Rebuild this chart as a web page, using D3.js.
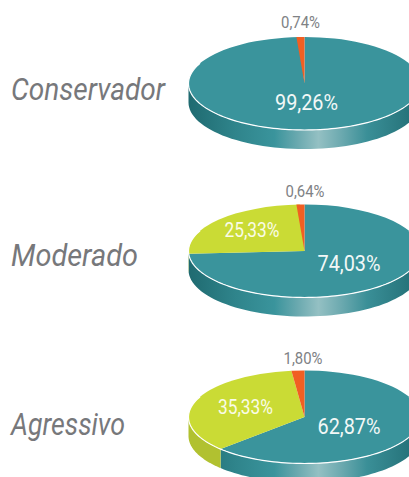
<!DOCTYPE html>
<html lang="en">
<head>
<meta charset="UTF-8">
<script src="https://d3js.org/d3.v7.min.js"></script>
<title>Perfis de investimento</title>
<style>
    html, body { margin: 0; padding: 0; background: #fff; overflow: hidden; }
    text { font-family: Roboto, "Liberation Sans", sans-serif; }
</style>
</head>
<body>
<div id="chart"></div>
<script>
    const profiles = ['Conservador', 'Moderado', 'Agressivo'];
    const sliceKeys = ['teal', 'yellow', 'orange'];
    const conservador = [99.26, 0, 0.74];
    const moderado = [74.03, 25.33, 0.64];
    const agressivo = [62.87, 35.33, 1.80];
    const allValues = [conservador, moderado, agressivo];

    const width = 409, height = 477;
    const rx = 116, ry = 46.5, depth = 19;
    const cx = 304.5;
    const centerY = [83.5, 251, 417];
    const nameY = [99.5, 266, 434.5];
    const nameWidth = [154, 127, 114];
    const colors = {teal: '#3a949c', yellow: '#cadb35', orange: '#f15f22'};
    const sideYellow = '#b1c130';
    // thin slices are drawn a little wider than their share so they stay visible
    const minAngle = 0.07;

    // label position, relative to the pie centre
    const big = {size: 22, len: 63, fill: '#f2f8f7', weight: 400};
    const mid = {size: 19.5, len: 55, fill: '#fafce8', weight: 400};
    const small = {size: 16.5, len: 39, fill: '#808285', weight: 400};
    const labelPos = [
        [{dx: 2, dy: 26.5, ...big}, null, {dx: -4, dy: -56, ...small}],
        [{dx: 44.5, dy: 20, ...big}, {dx: -52.5, dy: -13.7, ...mid}, {dx: 0.5, dy: -53.7, ...small}],
        [{dx: 44.5, dy: 17.3, ...big}, {dx: -59, dy: -3, ...mid}, {dx: -1.5, dy: -52.7, ...small}]
    ];

    const fmt = v => v.toFixed(2).replace('.', ',') + '%';

    const svg = d3.select('#chart').append('svg')
        .attr('width', width).attr('height', height);

    const grad = svg.append('defs').append('linearGradient')
        .attr('id', 'side').attr('gradientUnits', 'userSpaceOnUse')
        .attr('x1', -rx).attr('x2', rx).attr('y1', 0).attr('y2', 0);
    [[0, '#1f6a70'], [0.2, '#2f848b'], [0.37, '#3a949c'], [0.47, '#6aa9af'],
     [0.56, '#94c0c3'], [0.66, '#6ba9af'], [0.77, '#3a8f97'], [1, '#216c73']]
        .forEach(s => grad.append('stop').attr('offset', s[0]).attr('stop-color', s[1]));

    const pie = d3.pie().sort(null).value(d => d);
    const arc = d3.arc().innerRadius(0).outerRadius(rx);

    // angle on the ellipse -> screen offset
    const ex = a => rx * Math.sin(a);
    const ey = a => -ry * Math.cos(a);

    function wall(a0, a1) {
        const steps = d3.range(0, 61).map(i => a0 + (a1 - a0) * i / 60);
        const top = steps.map(a => [ex(a), ey(a)]);
        const bottom = steps.slice().reverse().map(a => [ex(a), ey(a) + depth]);
        return d3.line()(top.concat(bottom)) + 'Z';
    }

    profiles.forEach((name, i) => {
        const g = svg.append('g').attr('transform', `translate(${cx},${centerY[i]})`);
        const arcs = pie(allValues[i]);
        const front0 = Math.PI / 2, front1 = Math.PI * 1.5;

        // side wall, only the front half of the ellipse shows
        arcs.forEach((d, j) => {
            const a0 = Math.max(d.startAngle, front0), a1 = Math.min(d.endAngle, front1);
            if (a1 <= a0) return;
            g.append('path')
                .attr('d', wall(a0, a1))
                .attr('fill', j === 0 ? 'url(#side)' : j === 1 ? sideYellow : colors.orange);
        });

        // top face, a circular pie squashed into an ellipse
        g.append('g').attr('transform', `scale(1,${ry / rx})`)
            .selectAll('path').data(arcs.filter(d => d.value > 0)).join('path')
            .attr('d', d => arc({
                startAngle: Math.min(d.startAngle, d.endAngle - minAngle),
                endAngle: d.endAngle
            }))
            .attr('fill', d => colors[sliceKeys[d.index]]);

        // white rim along the front edge
        const rim = d3.range(0, 121).map(k => {
            const a = front0 - 0.45 + (front1 - front0 + 0.9) * k / 120;
            return [ex(a), ey(a)];
        });
        g.append('path').attr('d', d3.line()(rim))
            .attr('fill', 'none').attr('stroke', '#fff').attr('stroke-width', 1.2);

        allValues[i].forEach((v, j) => {
            const p = labelPos[i][j];
            if (!p) return;
            g.append('text')
                .attr('x', p.dx).attr('y', p.dy)
                .attr('text-anchor', 'middle')
                .attr('font-size', p.size)
                .attr('font-weight', p.weight)
                .attr('fill', p.fill)
                .attr('textLength', p.len)
                .attr('lengthAdjust', 'spacingAndGlyphs')
                .text(fmt(v));
        });

        svg.append('text')
            .attr('x', 11).attr('y', nameY[i])
            .attr('font-size', 30.5)
            .attr('font-style', 'italic')
            .attr('fill', '#77787b')
            .attr('textLength', nameWidth[i])
            .attr('lengthAdjust', 'spacingAndGlyphs')
            .text(name);
    });
</script>
</body>
</html>
